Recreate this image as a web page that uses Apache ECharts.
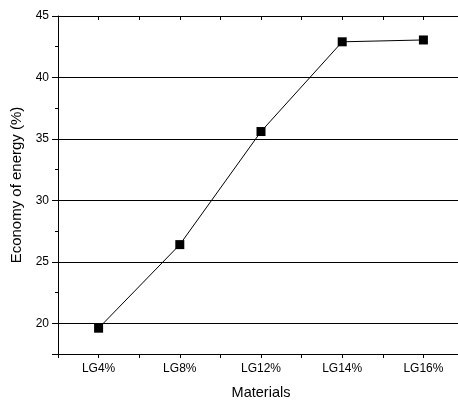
<!DOCTYPE html>
<html><head><meta charset="utf-8">
<script src="https://cdn.jsdelivr.net/npm/echarts@6/dist/echarts.min.js"></script>
<style>html,body{margin:0;padding:0;background:#fff}#c{width:458px;height:401px}</style>
</head><body><div id="c"></div>
<script>
var categories = ['LG4%', 'LG8%', 'LG12%', 'LG14%', 'LG16%'];
var economy = [19.6, 26.4, 35.6, 42.9, 43.05];
var yMin = 17.5, yMax = 45;

var font = 'Liberation Sans, Arial, sans-serif';
var chart = echarts.init(document.getElementById('c'), null, {renderer: 'canvas'});
var axisLine = {show: true, lineStyle: {color: '#000', width: 1}};
// category i is centred at i + 0.5 on a 0..N value scale
var pts = economy.map(function (v, i) { return [i + 0.5, v]; });
function catLabel(v) {
  var i = v - 0.5;
  return (Math.abs(i - Math.round(i)) < 1e-6 && categories[Math.round(i)] !== undefined) ? categories[Math.round(i)] : '';
}
chart.setOption({
  animation: false,
  grid: {left: 58, top: 16, right: -6, bottom: 47, containLabel: false, outerBoundsMode: 'none'},
  xAxis: [
    {
      type: 'value', min: 0, max: categories.length, interval: 0.5, position: 'bottom',
      axisLine: axisLine,
      axisTick: {show: true, length: 4, lineStyle: {color: '#000'}},
      axisLabel: {color: '#000', fontFamily: font, fontSize: 12, margin: 9, formatter: catLabel,
        showMinLabel: true, showMaxLabel: true, hideOverlap: false},
      splitLine: {show: false},
      name: 'Materials', nameLocation: 'middle', nameGap: 31,
      nameTextStyle: {color: '#000', fontFamily: font, fontSize: 14.5}
    },
    {
      type: 'value', min: 0, max: categories.length, interval: 0.5, position: 'top',
      axisLine: axisLine,
      axisTick: {show: true, inside: true, length: 4, lineStyle: {color: '#000'}},
      axisLabel: {show: false},
      splitLine: {show: false}
    }
  ],
  yAxis: [
    {
      type: 'value', min: yMin, max: yMax, position: 'left',
      axisLine: axisLine,
      axisTick: {show: true, length: 6, lineStyle: {color: '#000'}},
      minorTick: {show: true, splitNumber: 2, length: 3, lineStyle: {color: '#000'}},
      axisLabel: {color: '#000', fontFamily: font, fontSize: 12, margin: 9,
        formatter: function (v) { return v % 5 === 0 ? String(v) : ''; }},
      splitLine: {show: true, lineStyle: {color: '#000', width: 1}},
      name: 'Economy of energy (%)', nameLocation: 'middle', nameGap: 31,
      nameTextStyle: {color: '#000', fontFamily: font, fontSize: 15}
    }
  ],
  series: [{
    type: 'line', xAxisIndex: 0, yAxisIndex: 0, data: pts,
    symbol: 'rect', symbolSize: 9,
    itemStyle: {color: '#000'},
    lineStyle: {color: '#000', width: 1}
  }]
});
</script></body></html>
